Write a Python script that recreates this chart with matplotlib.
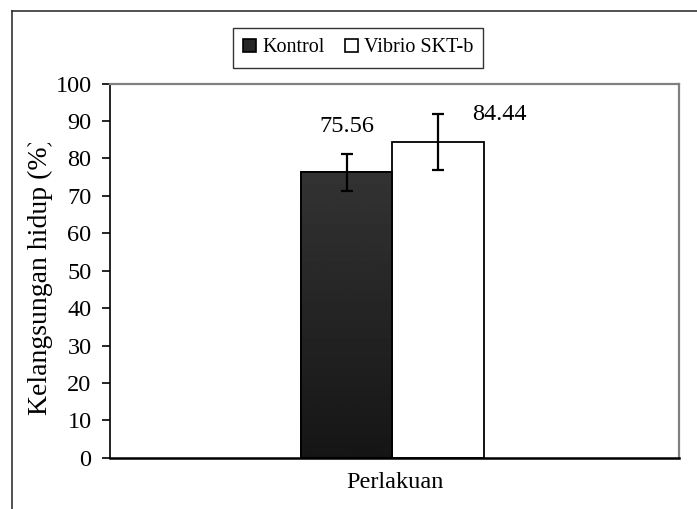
import numpy as np
import matplotlib
matplotlib.use("Agg")
import matplotlib.pyplot as plt
from matplotlib.lines import Line2D
from matplotlib.patches import Patch
from matplotlib.transforms import Bbox

plt.rcParams['font.family'] = ['Liberation Serif', 'DejaVu Serif']

# data
groups = ['Kontrol', 'Vibrio SKT-b']
means = [76.3, 84.4]
errors = [5.0, 7.6]
value_labels = ['75.56', '84.44']
category = 'Perlakuan'
y_label = 'Kelangsungan hidup (%)'
y_ticks = list(range(0, 101, 10))

fig = plt.figure(figsize=(6.97, 5.09), dpi=100)
ax = fig.add_axes([110 / 697, 1 - 457.7 / 509, 569 / 697, (457.7 - 83.7) / 509])

bar_w = 0.1605
shift = -0.004
xs = [shift - bar_w / 2, shift + bar_w / 2]
bars = ax.bar(xs, means, width=bar_w, color=['#262626', 'white'],
              edgecolor='black', linewidth=1.3, zorder=2)

# dark-gray gradient on the Kontrol bar
b = bars[0]
grad = np.linspace(0.2, 0.085, 256).reshape(-1, 1)
im = ax.imshow(grad, cmap='gray', vmin=0, vmax=1, aspect='auto',
               extent=[b.get_x(), b.get_x() + b.get_width(), 0, b.get_height()],
               origin='upper', zorder=2.1)
im.set_clip_path(b)
ax.bar([xs[0]], [means[0]], width=bar_w, facecolor='none',
       edgecolor='black', linewidth=1.3, zorder=2.2)

ax.errorbar(xs, means, yerr=errors, fmt='none', ecolor='black',
            elinewidth=1.6, capsize=4.5, capthick=1.6, zorder=3)

offsets = [(0, 29.2), (44.6, 15.6)]
for x, m, txt, off in zip(xs, means, value_labels, offsets):
    ax.annotate(txt, xy=(x, m), xytext=off, textcoords='offset points',
                ha='center', va='baseline', fontsize=17.5)

ax.set_xlim(-0.5, 0.5)
ax.set_ylim(0, 100)
ax.set_yticks(y_ticks)
ax.set_xticks([0])
ax.set_xticklabels([category])
ax.tick_params(axis='x', length=0, pad=10, labelsize=17.5)
ax.tick_params(axis='y', direction='out', length=5.8, width=1.2, labelsize=17.5, pad=7.5)

# y label: the closing bracket is cut off in the original
ylab = ax.set_ylabel(y_label, fontsize=20)
ax.yaxis.set_label_coords((53 - 110) / 569, 1 - (276 - 83.7) / 374)
ylab.set_clip_box(Bbox.from_extents(0, 0, 697, 509 - 143))
ylab.set_clip_on(True)

for s in ['top', 'right']:
    ax.spines[s].set_color('#808080')
    ax.spines[s].set_linewidth(1.6)
ax.spines['left'].set_linewidth(1.2)
ax.spines['bottom'].set_linewidth(1.8)

handles = [Patch(facecolor='#262626', edgecolor='black', linewidth=1.2),
           Patch(facecolor='white', edgecolor='black', linewidth=1.2)]
leg = fig.legend(handles, groups, loc='center', bbox_to_anchor=(358 / 697, 1 - 48 / 509),
                 ncol=2, fontsize=14.5, frameon=True, fancybox=False,
                 handlelength=0.65, handleheight=0.65, handletextpad=0.3,
                 columnspacing=1.0, borderpad=0.5, borderaxespad=0)
leg.get_frame().set_edgecolor('black')
leg.get_frame().set_linewidth(1.0)

# outer frame (left and top edges only visible)
fx = 12 / 697
fy = 1 - 10.5 / 509
fig.add_artist(Line2D([fx, fx], [0, fy], transform=fig.transFigure, color='#222222', lw=1.1))
fig.add_artist(Line2D([fx, 1], [fy, fy], transform=fig.transFigure, color='#222222', lw=1.1))

fig.savefig('out.png', dpi=100, facecolor='white')
